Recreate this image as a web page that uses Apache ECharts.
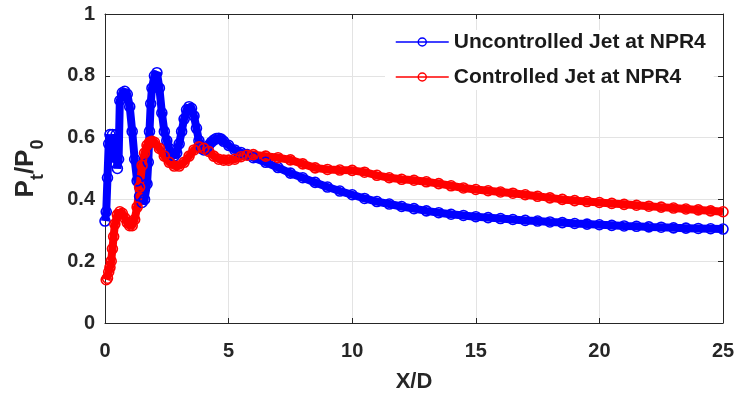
<!DOCTYPE html>
<html>
<head>
<meta charset="utf-8">
<script src="https://cdn.jsdelivr.net/npm/echarts@6/dist/echarts.min.js"></script>
<style>
  html, body { margin: 0; padding: 0; background: #fff; }
  #chart-panel { width: 751px; height: 398px; }
</style>
</head>
<body>
<div id="chart-panel"></div>
<script>
// series names
var seriesNames = ["Uncontrolled Jet at NPR4", "Controlled Jet at NPR4"];

// uncontrolled jet: X/D and Pt/P0
var xUncontrolled = [0, 0.05, 0.1, 0.15, 0.2, 0.25, 0.3, 0.35, 0.4, 0.45, 0.5, 0.55, 0.6, 0.7, 0.8, 0.9,
  1.0, 1.1, 1.2, 1.3, 1.4, 1.5, 1.6, 1.7, 1.75, 1.8, 1.85, 1.9, 2.0, 2.1, 2.2, 2.3, 2.4, 2.5, 2.6, 2.7,
  2.8, 2.9, 3.0, 3.1, 3.2, 3.3, 3.4, 3.5, 3.6, 3.7, 3.8, 3.9, 4.0, 4.1, 4.2, 4.3, 4.4, 4.5, 4.6, 4.7,
  4.8, 5.0, 5.25, 5.5, 5.75, 6.0, 6.5, 7.0, 7.5, 8.0, 8.5, 9.0, 9.5, 10, 10.5, 11, 11.5, 12, 12.5, 13,
  13.5, 14, 14.5, 15, 15.5, 16, 16.5, 17, 17.5, 18, 18.5, 19, 19.5, 20, 20.5, 21, 21.5, 22, 22.5, 23,
  23.5, 24, 24.5, 25];
var yUncontrolled = [0.33, 0.36, 0.47, 0.58, 0.61, 0.55, 0.61, 0.52, 0.57, 0.61, 0.50, 0.53, 0.72, 0.745, 0.75, 0.74,
  0.70, 0.62, 0.53, 0.46, 0.41, 0.39, 0.40, 0.45, 0.52, 0.62, 0.71, 0.76, 0.80, 0.81, 0.76, 0.68, 0.62, 0.59, 0.565, 0.545,
  0.54, 0.55, 0.58, 0.62, 0.66, 0.69, 0.70, 0.695, 0.67, 0.63, 0.59, 0.565, 0.56, 0.565, 0.575, 0.585, 0.592, 0.597, 0.598, 0.595,
  0.588, 0.575, 0.56, 0.552, 0.545, 0.535, 0.52, 0.503, 0.485, 0.47, 0.455, 0.44, 0.427, 0.415, 0.403, 0.393, 0.385, 0.377, 0.37, 0.363,
  0.357, 0.352, 0.348, 0.344, 0.341, 0.338, 0.335, 0.332, 0.33, 0.327, 0.325, 0.322, 0.32, 0.318, 0.316, 0.314, 0.313, 0.311, 0.31, 0.308,
  0.307, 0.306, 0.305, 0.304];

// controlled jet
var xControlled = [0.05, 0.1, 0.15, 0.2, 0.25, 0.3, 0.35, 0.4, 0.5, 0.6, 0.7, 0.8, 0.9, 1.0, 1.1, 1.2, 1.3,
  1.4, 1.5, 1.6, 1.7, 1.8, 1.9, 2.0, 2.2, 2.4, 2.6, 2.8, 3.0, 3.2, 3.4, 3.6, 3.8, 4.0, 4.2, 4.4, 4.6,
  4.8, 5.0, 5.25, 5.5, 5.75, 6.0, 6.5, 7.0, 7.5, 8.0, 8.5, 9.0, 9.5, 10, 10.5, 11, 11.5, 12, 12.5, 13,
  13.5, 14, 14.5, 15, 15.5, 16, 16.5, 17, 17.5, 18, 18.5, 19, 19.5, 20, 20.5, 21, 21.5, 22, 22.5, 23,
  23.5, 24, 24.5, 25];
var yControlled = [0.14, 0.145, 0.165, 0.18, 0.2, 0.24, 0.28, 0.32, 0.35, 0.36, 0.355, 0.34, 0.325, 0.315, 0.315, 0.335, 0.375,
  0.44, 0.51, 0.55, 0.575, 0.585, 0.588, 0.585, 0.565, 0.54, 0.52, 0.508, 0.508, 0.52, 0.54, 0.56, 0.57, 0.565, 0.555, 0.54, 0.53,
  0.527, 0.527, 0.53, 0.538, 0.543, 0.545, 0.54, 0.535, 0.528, 0.515, 0.502, 0.497, 0.495, 0.494, 0.488, 0.478, 0.47, 0.465, 0.462, 0.457,
  0.451, 0.444, 0.437, 0.432, 0.428, 0.424, 0.42, 0.415, 0.41, 0.405, 0.4, 0.396, 0.393, 0.39, 0.387, 0.384, 0.381, 0.378, 0.375, 0.372,
  0.369, 0.366, 0.363, 0.36];

function zip(xs, ys) {
  return xs.map(function (x, i) { return [x, ys[i]]; });
}

var chartPanel = echarts.init(document.getElementById("chart-panel"), null, { renderer: "canvas" });

var axisColor = "#262626";
var fontFamily = "Liberation Sans, Arial, sans-serif";
var labelFont = { color: axisColor, fontSize: 20, fontWeight: "bold", fontFamily: fontFamily };

function lineSeries(name, data, color) {
  return {
    name: name,
    type: "line",
    data: data,
    xAxisIndex: 0,
    yAxisIndex: 0,
    symbol: "circle",
    symbolSize: 10,
    showAllSymbol: true,
    lineStyle: { color: color, width: 8 },
    itemStyle: { color: "rgba(255,255,255,0)", borderColor: color, borderWidth: 1.6 },
    animation: false
  };
}

var option = {
  backgroundColor: "#fff",
  grid: { left: 105, right: 28, top: 14, bottom: 75 },
  legend: {
    data: seriesNames,
    orient: "vertical",
    left: 385,
    top: 30,
    padding: [1, 8, 2, 10],
    backgroundColor: "#fff",
    itemWidth: 53,
    itemHeight: 10,
    itemGap: 13,
    lineStyle: { width: 1.5 },
    itemStyle: { borderWidth: 1.5 },
    textStyle: { color: "#1a1a1a", fontSize: 21, fontWeight: "bold", lineHeight: 22, fontFamily: fontFamily }
  },
  xAxis: [
    {
      type: "value", min: 0, max: 25, interval: 5,
      name: "X/D", nameLocation: "middle", nameGap: 48,
      nameTextStyle: { color: axisColor, fontSize: 22, fontWeight: "bold", fontFamily: fontFamily },
      axisLine: { show: true, onZero: false, lineStyle: { color: axisColor, width: 1 } },
      axisTick: { show: true, inside: true, length: 5, lineStyle: { color: axisColor } },
      axisLabel: Object.assign({ margin: 18 }, labelFont),
      splitLine: { show: true, lineStyle: { color: "#e3e3e3", width: 1 } }
    },
    {
      type: "value", min: 0, max: 25, interval: 5, position: "top",
      axisLine: { show: true, onZero: false, lineStyle: { color: axisColor, width: 1 } },
      axisTick: { show: true, inside: true, length: 5, lineStyle: { color: axisColor } },
      axisLabel: { show: false },
      splitLine: { show: false }
    }
  ],
  yAxis: [
    {
      type: "value", min: 0, max: 1, interval: 0.2,
      name: "{b|P}{s|t}{b|/P}{s|0}", nameLocation: "middle", nameGap: 58,
      nameTextStyle: {
        rich: {
          b: { color: axisColor, fontSize: 26, fontWeight: "bold", fontFamily: fontFamily, verticalAlign: "top", lineHeight: 34 },
          s: { color: axisColor, fontSize: 18, fontWeight: "bold", fontFamily: fontFamily, verticalAlign: "bottom", padding: [12, 0, 0, 0], lineHeight: 34 }
        }
      },
      axisLine: { show: true, onZero: false, lineStyle: { color: axisColor, width: 1 } },
      axisTick: { show: true, inside: true, length: 5, lineStyle: { color: axisColor } },
      axisLabel: Object.assign({ margin: 10 }, labelFont),
      splitLine: { show: true, lineStyle: { color: "#e3e3e3", width: 1 } }
    },
    {
      type: "value", min: 0, max: 1, interval: 0.2, position: "right",
      axisLine: { show: true, onZero: false, lineStyle: { color: axisColor, width: 1 } },
      axisTick: { show: true, inside: true, length: 5, lineStyle: { color: axisColor } },
      axisLabel: { show: false },
      splitLine: { show: false }
    }
  ],
  series: [
    lineSeries(seriesNames[0], zip(xUncontrolled, yUncontrolled), "#0000ff"),
    lineSeries(seriesNames[1], zip(xControlled, yControlled), "#ff0000")
  ]
};

chartPanel.setOption(option);
</script>
</body>
</html>
